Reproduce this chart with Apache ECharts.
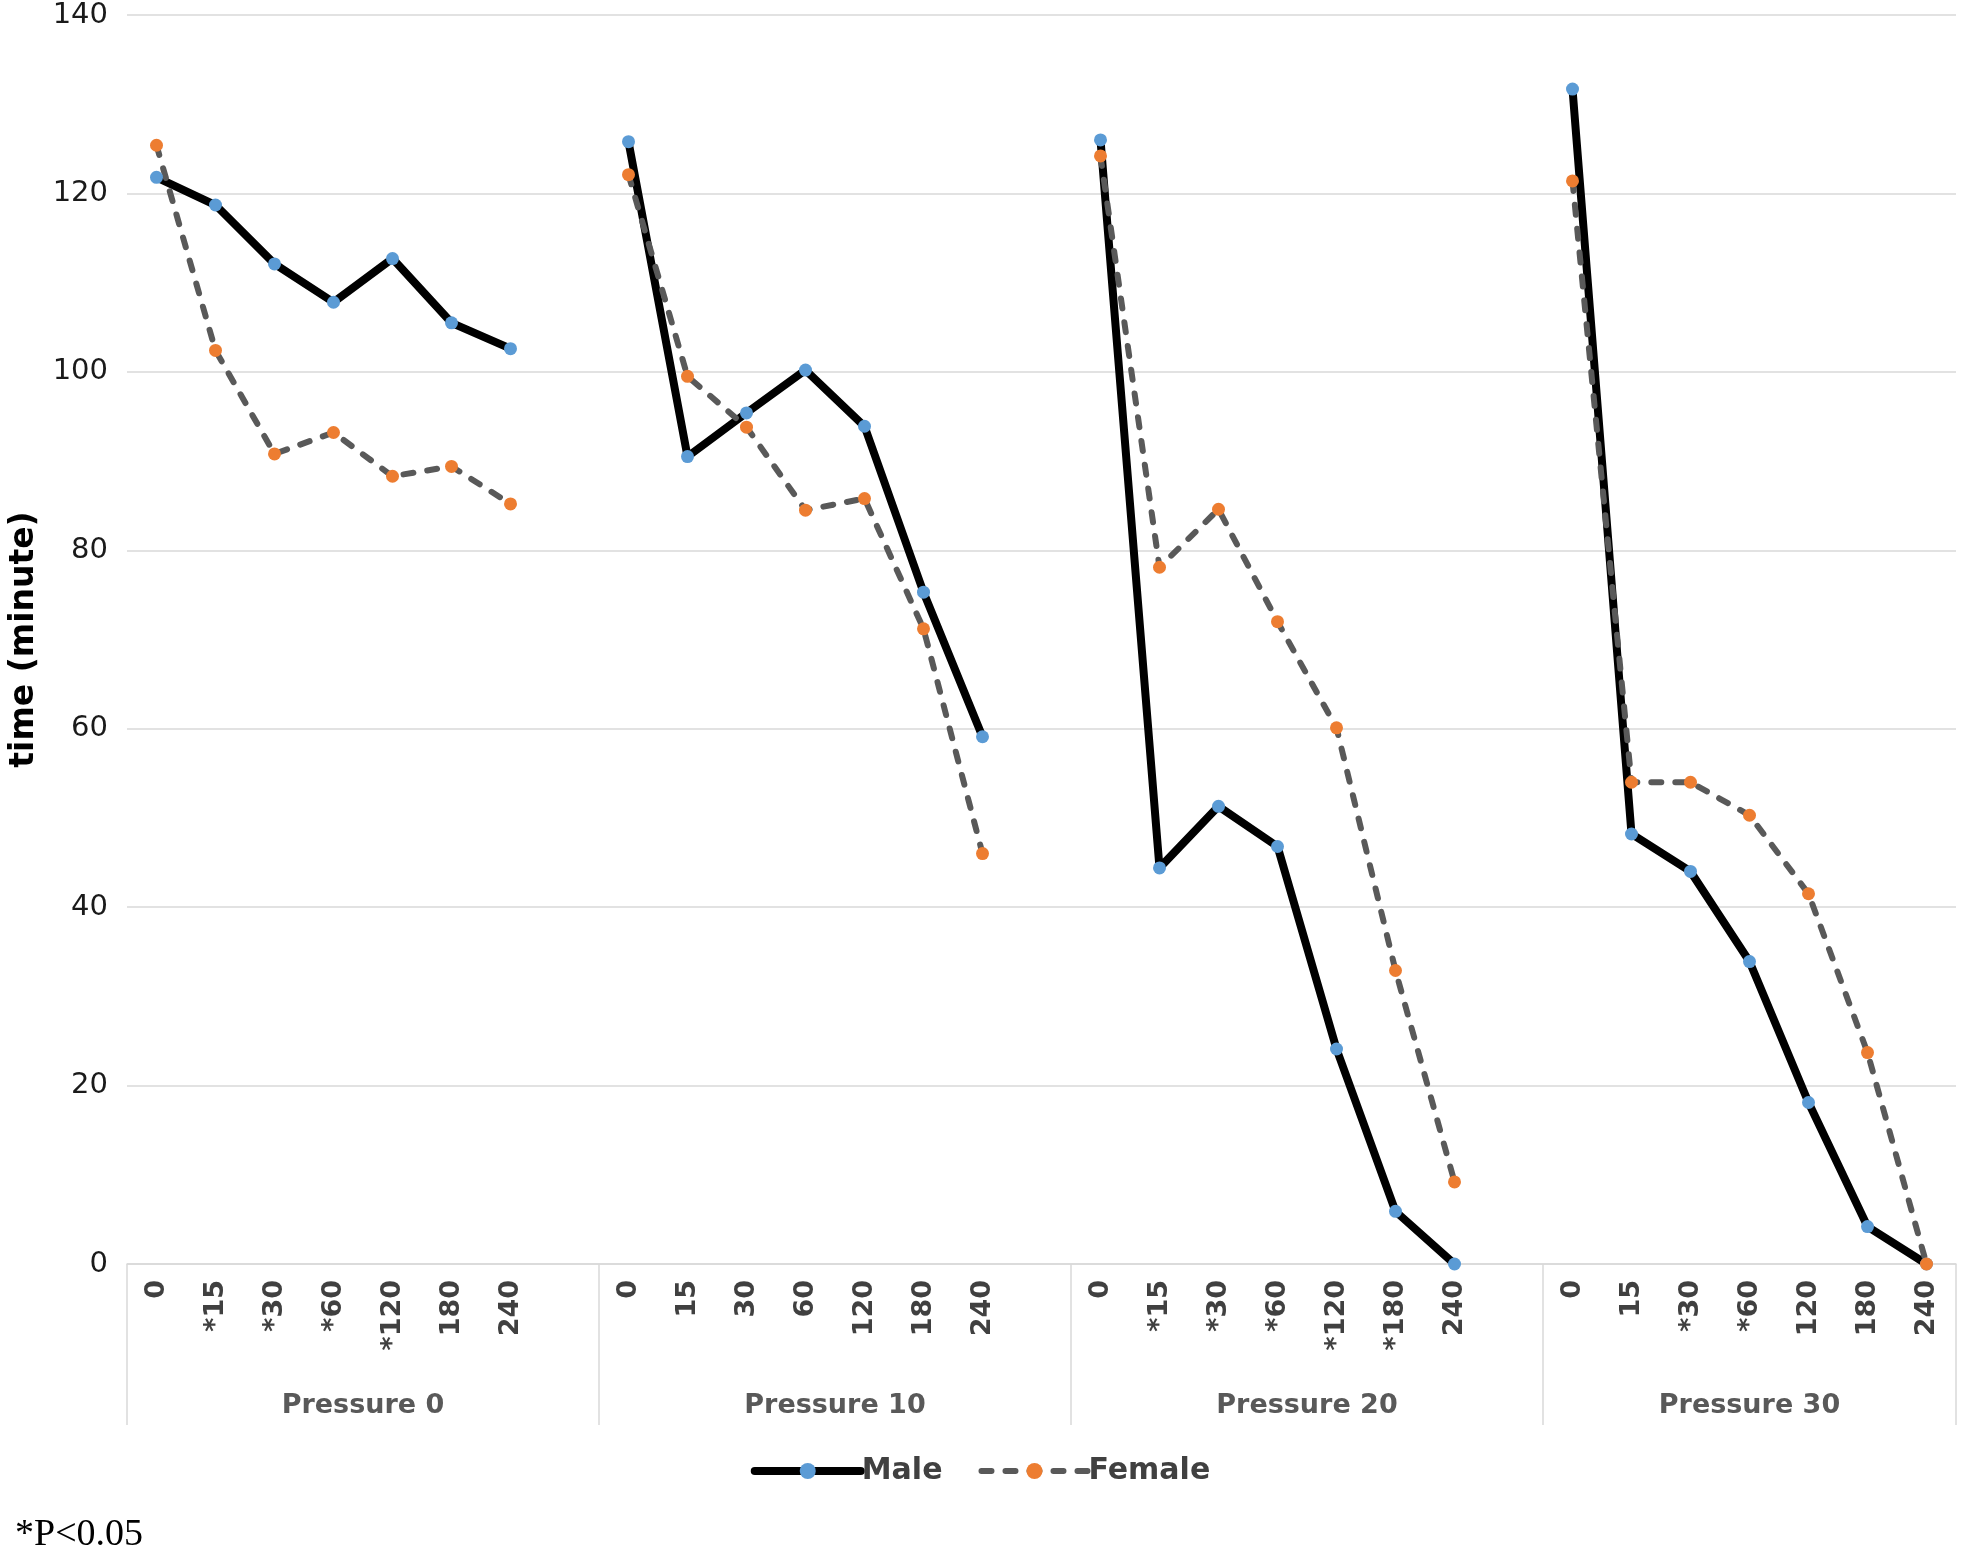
<!DOCTYPE html>
<html>
<head>
<meta charset="utf-8">
<script src="https://cdn.jsdelivr.net/npm/echarts@6/dist/echarts.min.js"></script>
<style>
html,body{margin:0;padding:0;background:#fff;}
#chart{width:1961px;height:1551px;}
</style>
</head>
<body>
<div id="chart"></div>
<script>
// ---- data ----
const groupNames = ['Pressure 0', 'Pressure 10', 'Pressure 20', 'Pressure 30'];
const timeLabels = [
  ['0', '*15', '*30', '*60', '*120', '180', '240'],
  ['0', '15', '30', '60', '120', '180', '240'],
  ['0', '*15', '*30', '*60', '*120', '*180', '240'],
  ['0', '15', '*30', '*60', '120', '180', '240']
];
const maleP0 = [121.8, 118.7, 112.1, 107.8, 112.7, 105.5, 102.6];
const maleP10 = [125.8, 90.5, 95.4, 100.2, 93.9, 75.3, 59.1];
const maleP20 = [126.0, 44.4, 51.3, 46.8, 24.1, 5.9, 0];
const maleP30 = [131.7, 48.2, 44.0, 33.9, 18.1, 4.2, 0];
const femaleP0 = [125.4, 102.4, 90.8, 93.2, 88.3, 89.4, 85.2];
const femaleP10 = [122.1, 99.5, 93.8, 84.5, 85.8, 71.2, 46.0];
const femaleP20 = [124.2, 78.1, 84.6, 72.0, 60.1, 32.9, 9.2];
const femaleP30 = [121.4, 54.0, 54.0, 50.3, 41.5, 23.7, 0];
const yTicks = [0, 20, 40, 60, 80, 100, 120, 140];

// ---- build flat category axis with a blank slot between groups ----
const maleGroups = [maleP0, maleP10, maleP20, maleP30];
const femaleGroups = [femaleP0, femaleP10, femaleP20, femaleP30];
const categories = [], male = [], female = [], groupSizes = [];
timeLabels.forEach((labs, g) => {
  labs.forEach((l, i) => {
    categories.push(l);
    male.push(maleGroups[g][i]);
    female.push(femaleGroups[g][i]);
  });
  let size = labs.length;
  if (g < timeLabels.length - 1) {
    categories.push('');
    male.push(null);
    female.push(null);
    size += 1;
  }
  groupSizes.push(size);
});
const boundaries = [0];
groupSizes.forEach(s => boundaries.push(boundaries[boundaries.length - 1] + s));
const centers = groupSizes.map((s, i) => boundaries[i] + s / 2);
const total = boundaries[boundaries.length - 1];

const chart = echarts.init(document.getElementById('chart'));
chart.setOption({
  animation: false,
  backgroundColor: '#fff',
  grid: { left: 125, right: 5, top: 15, bottom: 287, containLabel: false },
  legend: {
    data: ['Male', 'Female'],
    left: 'center',
    top: 1451,
    itemWidth: 106,
    itemHeight: 20,
    itemGap: 36,
    lineStyle: { width: 'inherit', cap: 'round' },
    textStyle: { fontFamily: 'DejaVu Sans', fontWeight: 'bold', fontSize: 30, color: '#404040', padding: [0, 0, 0, -4] }
  },
  xAxis: [
    {
      type: 'category',
      data: categories,
      boundaryGap: true,
      axisLine: { show: true, lineStyle: { color: '#d9d9d9', width: 1.5 } },
      axisTick: { show: false },
      axisLabel: {
        interval: 0, rotate: 90, margin: 16,
        fontFamily: 'DejaVu Sans', fontWeight: 'bold', fontSize: 27, color: '#404040'
      },
      splitLine: { show: false }
    },
    {
      type: 'value',
      min: 0, max: total,
      position: 'bottom',
      axisLine: { show: false },
      splitLine: { show: false },
      axisTick: {
        show: true, customValues: boundaries, length: 161, inside: false,
        lineStyle: { color: '#d9d9d9', width: 1.5 }
      },
      axisLabel: {
        show: true, customValues: centers, margin: 128,
        formatter: function (v) {
          const idx = centers.findIndex(c => Math.abs(c - v) < 1e-6);
          return idx >= 0 ? groupNames[idx] : '';
        },
        fontFamily: 'DejaVu Sans', fontWeight: 'bold', fontSize: 27, color: '#595959'
      }
    }
  ],
  yAxis: {
    type: 'value',
    min: yTicks[0], max: yTicks[yTicks.length - 1], interval: 20,
    name: 'time (minute)',
    nameLocation: 'middle',
    nameGap: 86,
    nameRotate: 90,
    nameTextStyle: { fontFamily: 'DejaVu Sans', fontWeight: 'bold', fontSize: 33, color: '#000' },
    axisLine: { show: false },
    axisTick: { show: false },
    axisLabel: { margin: 19, fontFamily: 'DejaVu Sans', fontSize: 29, color: '#1a1a1a' },
    splitLine: { lineStyle: { color: '#d9d9d9', width: 1.5 } }
  },
  series: [
    {
      name: 'Male', type: 'line', xAxisIndex: 0, data: male,
      connectNulls: false,
      symbol: 'circle', symbolSize: 13,
      lineStyle: { color: '#000000', width: 8, join: 'round', cap: 'round' },
      itemStyle: { color: '#5B9BD5', borderWidth: 0 }
    },
    {
      name: 'Female', type: 'line', xAxisIndex: 0, data: female,
      connectNulls: false,
      symbol: 'circle', symbolSize: 13,
      lineStyle: { color: '#595959', width: 6, type: [10, 14], cap: 'round', join: 'round' },
      itemStyle: { color: '#ED7D31', borderWidth: 0 }
    }
  ],
  graphic: [
    {
      type: 'text', left: 15, top: 1516,
      style: { text: '*P<0.05', font: '38px "Liberation Serif"', fill: '#000' }
    }
  ]
});
</script>
</body>
</html>
